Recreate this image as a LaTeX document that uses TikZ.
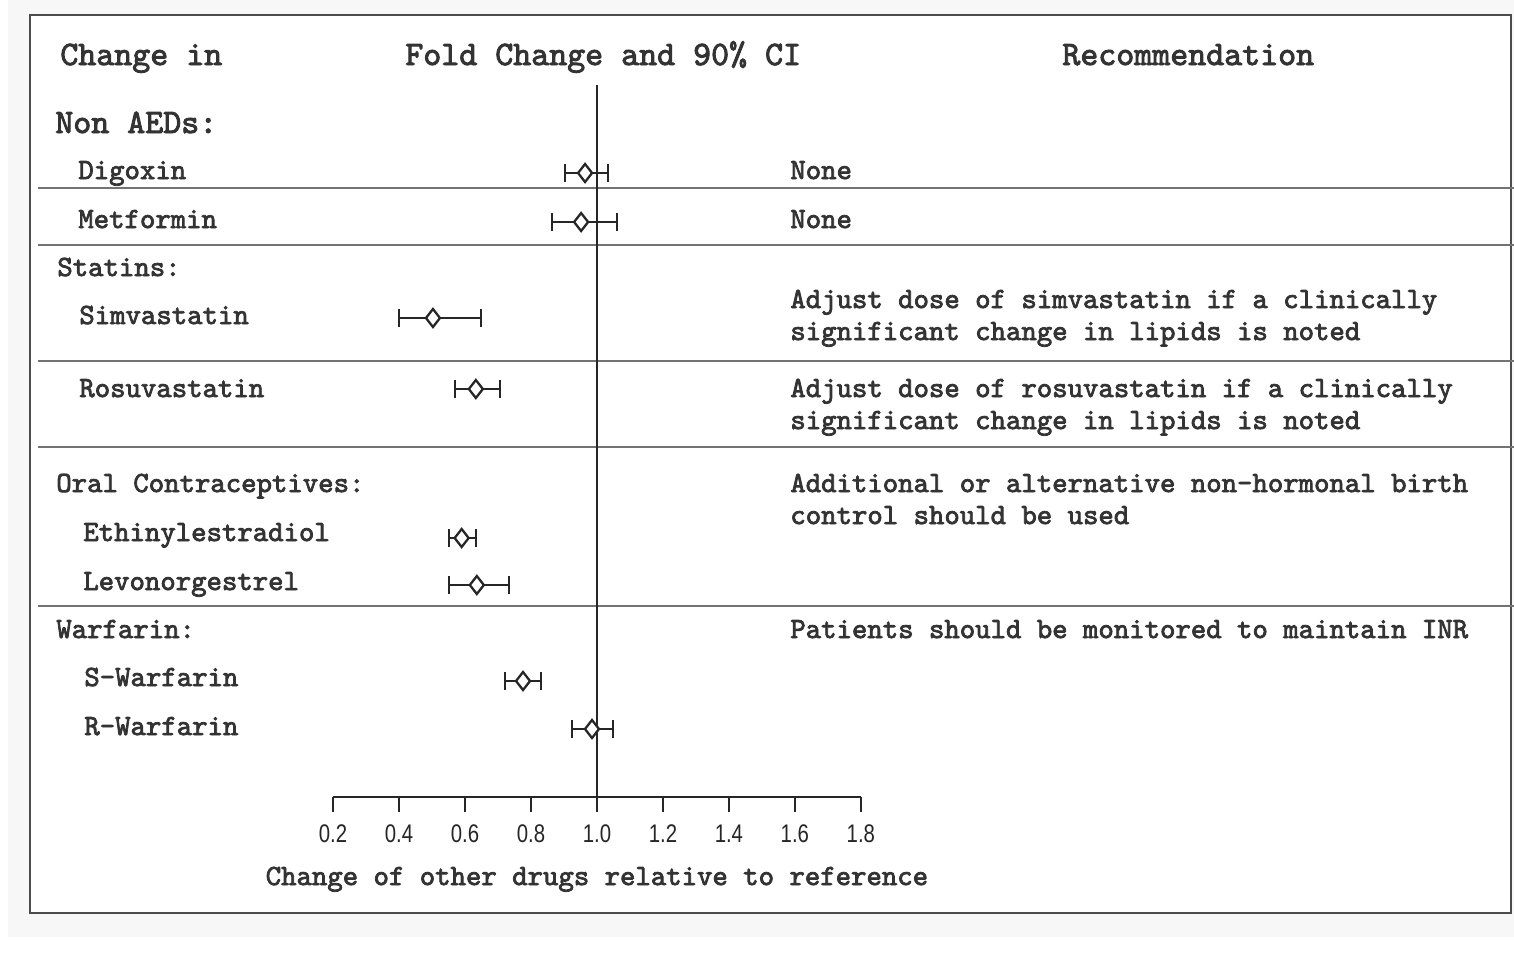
\documentclass[tikz,border=0pt]{standalone}
\usepackage{fontspec}
\setmonofont{lmmono10-regular.otf}[FakeBold=2.6]
\newfontfamily\tickfont[FakeStretch=0.8]{Liberation Sans}
\tikzset{
  big/.style={anchor=base west,inner sep=0pt,text=black!80,font=\ttfamily\fontsize{19.5}{22}\selectfont},
  lab/.style={anchor=base west,inner sep=0pt,text=black!80,font=\ttfamily\fontsize{16.7}{19}\selectfont},
  sep/.style={line width=1.6pt,color=black!55},
  bar/.style={line width=1.3pt,color=black!85},
}
\begin{document}
\begin{tikzpicture}[x=0.02cm,y=-0.02cm]
\useasboundingbox (0,0) rectangle (1514,968);
\fill[black!3] (8,0) rectangle (1514,937);
\draw[line width=1.4pt,color=black!70,fill=white] (30,15) rectangle (1511,913);
\node[big] (hdrdrug) at (60,65) {Change in};
\node[big] (hdrfold) at (405,65) {Fold Change and 90\% CI};
\node[big] (hdrrec) at (1062,65) {Recommendation};
\node[big] (nonaed) at (55,133) {Non AEDs:};
\node[lab] (statins) at (57,276) {Statins:};
\node[lab] (oral) at (56,492) {Oral Contraceptives:};
\node[lab] (warfarin) at (56,638) {Warfarin:};
\foreach \y in {188,245,361,447,606}
\draw[sep] (38,\y) -- (1514,\y);
\foreach \n/\t/\x/\y in {digoxin/Digoxin/78/179,metformin/Metformin/78/228,
  simva/Simvastatin/79/324,rosuva/Rosuvastatin/79/397,
  ethinyl/Ethinylestradiol/83/541,levo/Levonorgestrel/83/590,
  swarf/S-Warfarin/84/686,rwarf/R-Warfarin/84/735}
\node[lab] (\n) at (\x,\y) {\t};
\node[lab] (recdig) at (790,179) {None};
\node[lab] (recmet) at (790,228) {None};
\node[lab] (recsim) at (790,308) {Adjust dose of simvastatin if a clinically};
\node[lab] (recsimb) at (790,340) {significant change in lipids is noted};
\node[lab] (recros) at (790,397) {Adjust dose of rosuvastatin if a clinically};
\node[lab] (recrosb) at (790,429) {significant change in lipids is noted};
\node[lab] (recoral) at (790,492) {Additional or alternative non-hormonal birth};
\node[lab] (recoralb) at (790,524) {control should be used};
\node[lab] (recwarf) at (790,638) {Patients should be monitored to maintain INR};
\begin{scope}[shift={(267,0)},x=6.6cm]
\draw[line width=1.1pt,color=black!85] (1,85) -- (1,797);
\draw[line width=1.1pt,color=black!85] (0.2,797) -- (1.8,797);
\foreach \v [count=\i] in {0.2,0.4,0.6,0.8,1.0,1.2,1.4,1.6,1.8}{
\draw[line width=1.1pt,color=black!85] (\v,797) -- (\v,812);
\node[anchor=base,inner sep=0pt,text=black!85,font=\tickfont\fontsize{14.5}{16}\selectfont] (tick\i) at (\v,842) {\v};
}
\node[lab,anchor=base] (axtitle) at (1,885) {Change of other drugs relative to reference};
\foreach \yb/\lo/\est/\hi in {173/0.903/0.964/1.033,222/0.864/0.952/1.06,
  318/0.4/0.503/0.648,389/0.57/0.633/0.706,538/0.552/0.59/0.633,
  585/0.552/0.636/0.733,681/0.721/0.776/0.83,729/0.924/0.985/1.048}{
\draw[bar] (\lo,\yb) -- (\hi,\yb);
\draw[bar] (\lo,\yb-9) -- (\lo,\yb+9);
\draw[bar] (\hi,\yb-9) -- (\hi,\yb+9);
\draw[bar,fill=white] (\est,\yb) ++(-0.14cm,0) -- ++(0.14cm,0.18cm) -- ++(0.14cm,-0.18cm) -- ++(-0.14cm,-0.18cm) -- cycle;
}
\end{scope}
\end{tikzpicture}
\end{document}
